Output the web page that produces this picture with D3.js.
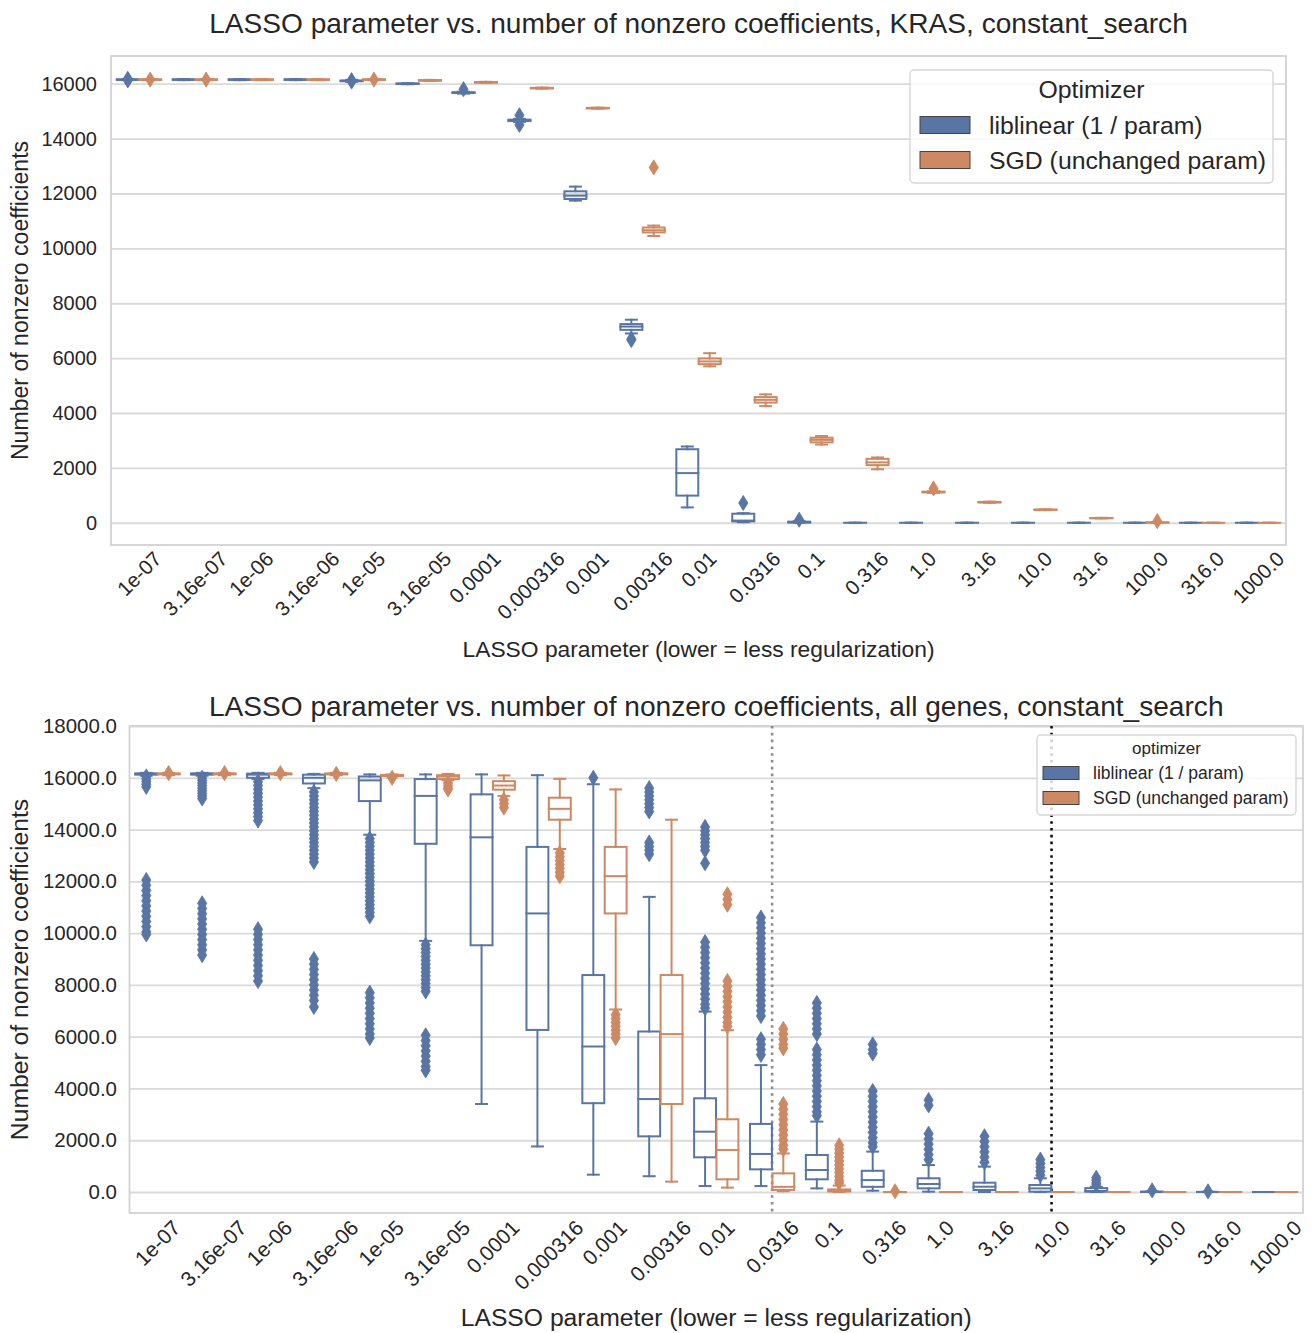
<!DOCTYPE html>
<html>
<head>
<meta charset="utf-8">
<script src="https://cdn.jsdelivr.net/npm/d3@7"></script>
<style>
  body { margin: 0; background: #fff; }
  text { font-family: "Liberation Sans", Arial, Helvetica, sans-serif; fill: #262626; }
</style>
</head>
<body>
<svg id="chart" width="1313" height="1333"></svg>
<script>
// LASSO regularization strengths tried in the search
const lassoParams = ["1e-07", "3.16e-07", "1e-06", "3.16e-06", "1e-05", "3.16e-05", "0.0001",
  "0.000316", "0.001", "0.00316", "0.01", "0.0316", "0.1", "0.316", "1.0", "3.16", "10.0",
  "31.6", "100.0", "316.0", "1000.0"];
const optimizers = ["liblinear (1 / param)", "SGD (unchanged param)"];
const optimizerColors = ["#5975a4", "#cc8963"];

// Box summaries per parameter: [lower whisker, Q1, median, Q3, upper whisker]
const krasLiblinearBoxes = [
  [16130, 16140, 16150, 16160, 16170], [16130, 16140, 16150, 16160, 16170],
  [16130, 16140, 16150, 16160, 16170], [16130, 16140, 16150, 16160, 16170],
  [16070, 16090, 16100, 16120, 16140], [15980, 15990, 16000, 16010, 16020],
  [15640, 15660, 15670, 15690, 15710], [14610, 14640, 14660, 14690, 14720],
  [11740, 11800, 11920, 12080, 12250], [6900, 7030, 7150, 7240, 7400],
  [560, 990, 1810, 2680, 2780], [20, 50, 80, 330, 350],
  [0, 10, 20, 40, 60], [0, 0, 0, 0, 0], [0, 0, 0, 0, 0], [0, 0, 0, 0, 0],
  [0, 0, 0, 0, 0], [0, 0, 0, 0, 0], [0, 0, 0, 0, 0], [0, 0, 0, 0, 0], [0, 0, 0, 0, 0]
];
const krasLiblinearFliers = [
  [16120, 16180], [], [], [], [16080, 16130], [], [15800], [14850, 14500], [],
  [6700, 6660], [], [720], [110], [], [], [], [], [], [], [], []
];
const krasSgdBoxes = [
  [16130, 16140, 16150, 16160, 16170], [16130, 16140, 16150, 16160, 16170],
  [16130, 16140, 16150, 16160, 16170], [16130, 16140, 16150, 16160, 16170],
  [16130, 16140, 16150, 16160, 16170], [16100, 16110, 16120, 16130, 16140],
  [16030, 16040, 16050, 16060, 16070], [15820, 15830, 15840, 15850, 15860],
  [15090, 15100, 15110, 15120, 15130], [10450, 10580, 10660, 10760, 10830],
  [5700, 5780, 5880, 5990, 6180], [4250, 4380, 4480, 4580, 4680],
  [2850, 2930, 3020, 3100, 3160], [1950, 2100, 2200, 2330, 2380],
  [1090, 1105, 1120, 1135, 1150], [730, 740, 750, 760, 770],
  [460, 470, 475, 480, 490], [160, 165, 170, 175, 180],
  [0, 5, 10, 15, 20], [0, 0, 0, 0, 0], [0, 0, 0, 0, 0]
];
const krasSgdFliers = [
  [16150], [16150], [], [], [16150], [], [], [], [], [12950], [], [], [], [],
  [1250], [], [], [], [60], [], []
];

const allLiblinearBoxes = [
  [16080, 16120, 16150, 16170, 16190], [16080, 16120, 16150, 16170, 16190],
  [15950, 16000, 16120, 16160, 16190], [15600, 15780, 16000, 16120, 16150],
  [13800, 15100, 15900, 16050, 16130], [9700, 13450, 15300, 15950, 16130],
  [3400, 9530, 13700, 15360, 16130], [1760, 6260, 10760, 13330, 16100],
  [670, 3430, 5620, 8380, 15750], [610, 2150, 3590, 6200, 11400],
  [230, 1340, 2330, 3620, 6970], [230, 875, 1470, 2630, 4900],
  [140, 490, 850, 1430, 2720], [50, 200, 460, 820, 1560],
  [13, 140, 310, 530, 1040], [0, 77, 205, 360, 980],
  [0, 13, 140, 270, 530], [0, 10, 40, 150, 200],
  [0, 0, 5, 15, 25], [0, 0, 0, 5, 10], [0, 0, 0, 0, 0]
];
const allLiblinearFliers = [
  [16050, 15950, 15850, 15750, 15650, 12050, 11850, 11650, 11450, 11250, 11050, 10850, 10650, 10450, 10250, 10050, 9950],
  [16000, 15900, 15800, 15700, 15600, 15500, 15400, 15300, 15200, 11150, 10950, 10750, 10550, 10350, 10150, 9950, 9750, 9550, 9350, 9150],
  [15850, 15700, 15550, 15400, 15250, 15100, 14950, 14800, 14650, 14500, 14350, 10150, 9950, 9750, 9550, 9350, 9150, 8950, 8750, 8550, 8350, 8150],
  [15450, 15300, 15150, 15000, 14850, 14700, 14550, 14400, 14250, 14100, 13950, 13800, 13650, 13500, 13350, 13200, 13050, 12900, 12750, 9000, 8800, 8600, 8400, 8200, 8000, 7800, 7600, 7400, 7150],
  [13650, 13500, 13350, 13200, 13050, 12900, 12750, 12600, 12450, 12300, 12150, 12000, 11850, 11700, 11550, 11400, 11250, 11100, 10950, 10800, 10650, 7700, 7500, 7300, 7100, 6900, 6700, 6500, 6300, 6100, 5950],
  [9550, 9400, 9250, 9100, 8950, 8800, 8650, 8500, 8350, 8200, 8050, 7900, 7750, 6050, 5850, 5650, 5450, 5250, 5050, 4850, 4700],
  [],
  [],
  [16000],
  [15600, 15450, 15300, 15150, 15000, 14850, 14700, 13500, 13350, 13200, 13050],
  [14100, 13950, 13800, 13650, 13500, 13350, 13200, 12700, 9650, 9450, 9250, 9050, 8850, 8650, 8450, 8250, 8050, 7850, 7650, 7450, 7250, 7100],
  [10600, 10400, 10200, 10000, 9800, 9600, 9400, 9200, 9000, 8800, 8600, 8400, 8200, 8000, 7800, 7600, 7400, 7200, 7000, 6800, 5900, 5700, 5500, 5300],
  [7300, 7100, 6900, 6700, 6500, 6300, 6100, 5500, 5300, 5100, 4900, 4700, 4500, 4300, 4100, 3900, 3700, 3500, 3300, 3100, 2950],
  [5700, 5500, 5350, 3900, 3700, 3500, 3300, 3100, 2900, 2700, 2500, 2300, 2100, 1900, 1750],
  [3550, 3350, 2250, 2050, 1850, 1650, 1450, 1250],
  [2150, 1950, 1750, 1550, 1350, 1150],
  [1250, 1100, 950, 800, 650],
  [550, 450, 350, 280],
  [60],
  [25],
  []
];
const allSgdBoxes = [
  [16100, 16130, 16150, 16170, 16190], [16100, 16130, 16150, 16170, 16190],
  [16100, 16130, 16150, 16170, 16190], [16100, 16130, 16150, 16170, 16190],
  [16050, 16070, 16090, 16110, 16130], [15900, 15950, 16050, 16100, 16150],
  [15300, 15540, 15700, 15870, 16090], [13250, 14380, 14800, 15230, 15960],
  [7050, 10760, 12200, 13330, 15550], [400, 3400, 6100, 8380, 14380],
  [170, 490, 1620, 2810, 6250], [30, 80, 200, 720, 1490],
  [0, 20, 50, 100, 250], [0, 0, 0, 0, 0], [0, 0, 0, 0, 0], [0, 0, 0, 0, 0],
  [0, 0, 0, 0, 0], [0, 0, 0, 0, 0], [0, 0, 0, 0, 0], [0, 0, 0, 0, 0], [0, 0, 0, 0, 0]
];
const allSgdFliers = [
  [16180], [16180], [16180], [16150], [16000],
  [15800, 15700, 15600, 15550],
  [15150, 15000, 14850],
  [13100, 12950, 12800, 12650, 12500, 12350, 12200],
  [6850, 6700, 6550, 6400, 6250, 6100, 5950],
  [],
  [11500, 11300, 11100, 8150, 7950, 7750, 7550, 7350, 7150, 6950, 6750, 6550, 6400],
  [6300, 6100, 5900, 5700, 5550, 3400, 3200, 3000, 2800, 2600, 2400, 2200, 2000, 1800, 1650],
  [1800, 1650, 1500, 1350, 1200, 1050, 900, 750, 600, 450, 350],
  [30], [], [], [], [], [], [], []
];

const krasTicks = [0, 2000, 4000, 6000, 8000, 10000, 12000, 14000, 16000];
const allTicks = [0, 2000, 4000, 6000, 8000, 10000, 12000, 14000, 16000, 18000];

// reference cut-offs marked on the all-genes panel
const cutoffParams = ["0.0316", "10.0"];
const cutoffColors = ["#8c8c8c", "#111111"];

const svg = d3.select("#chart");

function drawPanel(cfg) {
  const g = svg.append("g");
  const x = d3.scaleBand().domain(lassoParams).range([cfg.left, cfg.right]).paddingInner(0).paddingOuter(0);
  const B = x.bandwidth();
  const hue = d3.scaleBand().domain(optimizers).range([0.1 * B, 0.9 * B]);
  const y = d3.scaleLinear().domain(cfg.yDomain).range([cfg.bottom, cfg.top]);
  const boxW = hue.bandwidth() * 0.98;

  // horizontal grid
  g.append("g")
    .attr("transform", `translate(${cfg.left},0)`)
    .call(d3.axisLeft(y).tickValues(cfg.ticks).tickSize(-(cfg.right - cfg.left)).tickFormat(""))
    .call(a => a.select(".domain").remove())
    .call(a => a.selectAll("line").attr("stroke", "#dadada").attr("stroke-width", 1.8));

  // frame
  g.append("rect")
    .attr("x", cfg.left).attr("y", cfg.top)
    .attr("width", cfg.right - cfg.left).attr("height", cfg.bottom - cfg.top)
    .attr("fill", "none").attr("stroke", "#d2d2d2").attr("stroke-width", 1.8);

  // cut-off lines
  (cfg.cutoffs || []).forEach((p, i) => {
    const cx = x(p) + B / 2;
    g.append("line")
      .attr("x1", cx).attr("x2", cx).attr("y1", cfg.top).attr("y2", cfg.bottom)
      .attr("stroke", cutoffColors[i]).attr("stroke-width", 2.6)
      .attr("stroke-dasharray", "2.6,4.2");
  });

  // boxes
  const series = [
    { name: optimizers[0], color: optimizerColors[0], boxes: cfg.series[0].boxes, fliers: cfg.series[0].fliers },
    { name: optimizers[1], color: optimizerColors[1], boxes: cfg.series[1].boxes, fliers: cfg.series[1].fliers }
  ];
  const diamond = "M0,-7.6L4.6,0L0,7.6L-4.6,0Z";
  lassoParams.forEach((p, i) => {
    series.forEach(s => {
      const [lo, q1, med, q3, hi] = s.boxes[i];
      const cx = x(p) + hue(s.name) + hue.bandwidth() / 2;
      const bg = g.append("g")
        .attr("stroke", s.color).attr("stroke-width", 2).attr("fill", "none")
        .attr("stroke-linecap", "square");
      bg.append("rect")
        .attr("x", cx - boxW / 2).attr("y", y(q3))
        .attr("width", boxW).attr("height", Math.max(0, y(q1) - y(q3)));
      bg.append("line").attr("x1", cx).attr("x2", cx).attr("y1", y(q3)).attr("y2", y(hi));
      bg.append("line").attr("x1", cx).attr("x2", cx).attr("y1", y(q1)).attr("y2", y(lo));
      bg.append("line").attr("x1", cx - boxW / 4).attr("x2", cx + boxW / 4).attr("y1", y(hi)).attr("y2", y(hi));
      bg.append("line").attr("x1", cx - boxW / 4).attr("x2", cx + boxW / 4).attr("y1", y(lo)).attr("y2", y(lo));
      bg.append("line").attr("x1", cx - boxW / 2).attr("x2", cx + boxW / 2).attr("y1", y(med)).attr("y2", y(med));
      g.append("g").selectAll("path").data(s.fliers[i]).join("path")
        .attr("d", diamond)
        .attr("transform", v => `translate(${cx},${y(v)})`)
        .attr("fill", s.color).attr("stroke", s.color).attr("stroke-width", 0.8);
    });
  });

  // y axis labels
  g.append("g")
    .attr("transform", `translate(${cfg.left},0)`)
    .call(d3.axisLeft(y).tickValues(cfg.ticks).tickSize(0).tickPadding(cfg.yPad).tickFormat(cfg.yFormat))
    .call(a => a.select(".domain").remove())
    .call(a => a.selectAll("text").style("font-size", cfg.tickFont + "px").attr("fill", "#262626"));

  // x axis labels, rotated 45 degrees and centred under each category
  const xa = g.append("g")
    .attr("transform", `translate(0,${cfg.bottom})`)
    .call(d3.axisBottom(x).tickSize(0).tickPadding(0))
    .call(a => a.select(".domain").remove());
  xa.selectAll("text").each(function () {
    const t = d3.select(this);
    t.style("font-size", cfg.xTickFont + "px").attr("fill", "#262626")
      .attr("dy", null).attr("text-anchor", "middle").attr("dominant-baseline", "central");
    const w = this.getComputedTextLength();
    const h = cfg.xTickFont * 0.95;
    const half = (w + h) * Math.SQRT1_2 / 2;
    const cy = cfg.xPad + half;
    t.attr("x", 0).attr("y", cy).attr("transform", `rotate(-45,0,${cy})`);
  });

  // titles
  const midX = (cfg.left + cfg.right) / 2;
  g.append("text").attr("x", midX).attr("y", cfg.titleY).attr("text-anchor", "middle")
    .style("font-size", cfg.titleFont + "px").text(cfg.title);
  g.append("text").attr("x", midX).attr("y", cfg.xLabelY).attr("text-anchor", "middle")
    .style("font-size", cfg.labelFont + "px").text("LASSO parameter (lower = less regularization)");
  g.append("text")
    .attr("transform", `translate(${cfg.yLabelX},${(cfg.top + cfg.bottom) / 2}) rotate(-90)`)
    .attr("text-anchor", "middle")
    .style("font-size", cfg.yLabelFont + "px").text("Number of nonzero coefficients");

  // legend
  const L = cfg.legend;
  const lg = g.append("g");
  lg.append("rect").attr("x", L.x).attr("y", L.y).attr("width", L.w).attr("height", L.h)
    .attr("rx", 4).attr("fill", "#fff").attr("fill-opacity", 0.8)
    .attr("stroke", "#d6d6d6").attr("stroke-width", 1.4);
  lg.append("text").attr("x", L.x + L.w / 2).attr("y", L.titleY).attr("text-anchor", "middle")
    .style("font-size", L.titleFont + "px").text(L.title);
  optimizers.forEach((o, i) => {
    const ry = L.rowY[i];
    lg.append("rect").attr("x", L.x + L.patchX).attr("y", ry - L.patchH / 2)
      .attr("width", L.patchW).attr("height", L.patchH)
      .attr("fill", optimizerColors[i]).attr("stroke", "#444").attr("stroke-width", 1);
    lg.append("text").attr("x", L.x + L.textX).attr("y", ry).attr("dominant-baseline", "central")
      .style("font-size", L.font + "px").text(o);
  });
}

drawPanel({
  left: 111, right: 1286, top: 56, bottom: 545,
  yDomain: [-810, 17010], ticks: krasTicks, yFormat: d3.format("d"),
  yPad: 14, tickFont: 20, xTickFont: 20.5, xPad: 3,
  series: [{ boxes: krasLiblinearBoxes, fliers: krasLiblinearFliers },
           { boxes: krasSgdBoxes, fliers: krasSgdFliers }],
  title: "LASSO parameter vs. number of nonzero coefficients, KRAS, constant_search",
  titleY: 33, titleFont: 28.1, xLabelY: 657, labelFont: 22.8, yLabelFont: 23.1, yLabelX: 28,
  legend: { x: 910, y: 70, w: 363, h: 113, title: "Optimizer", titleY: 98, titleFont: 24.8,
            font: 24.8, rowY: [125, 160], patchX: 10, patchW: 50, patchH: 17, textX: 79 }
});

drawPanel({
  left: 129.5, right: 1303, top: 726, bottom: 1213,
  yDomain: [-811, 18000], ticks: allTicks, yFormat: d3.format(".1f"),
  yPad: 12.5, tickFont: 20.5, xTickFont: 21, xPad: 4,
  cutoffs: cutoffParams,
  series: [{ boxes: allLiblinearBoxes, fliers: allLiblinearFliers },
           { boxes: allSgdBoxes, fliers: allSgdFliers }],
  title: "LASSO parameter vs. number of nonzero coefficients, all genes, constant_search",
  titleY: 716, titleFont: 28.1, xLabelY: 1326, labelFont: 24.7, yLabelFont: 24.7, yLabelX: 28,
  legend: { x: 1037, y: 735, w: 259, h: 80, title: "optimizer", titleY: 754, titleFont: 17,
            font: 17.5, rowY: [773, 798], patchX: 6, patchW: 36, patchH: 13, textX: 56 }
});
</script>
</body>
</html>
